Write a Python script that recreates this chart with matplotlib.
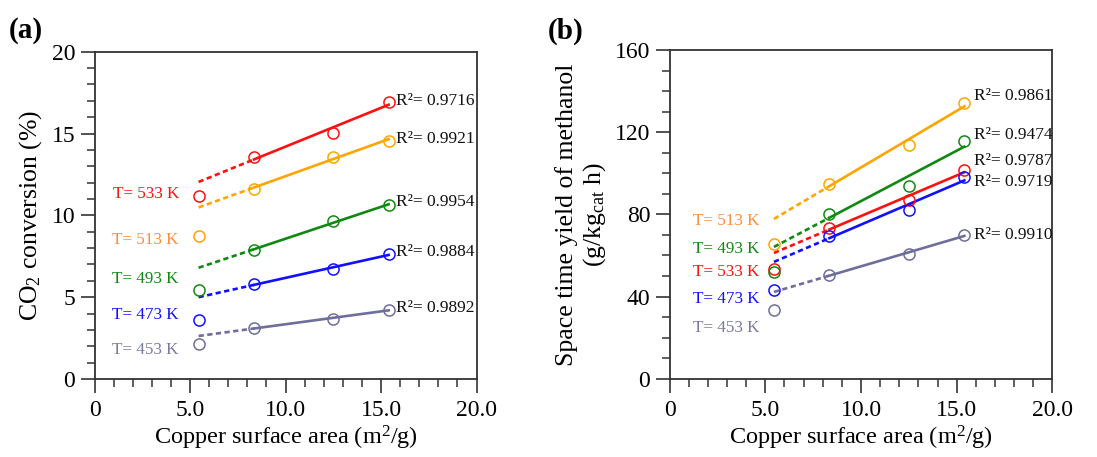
import numpy as np
import matplotlib
matplotlib.use("Agg")
import matplotlib.pyplot as plt
from matplotlib.ticker import MultipleLocator, FixedLocator

plt.rcParams['font.family'] = ['Liberation Serif', 'DejaVu Serif']
plt.rcParams['mathtext.fontset'] = 'custom'
plt.rcParams['mathtext.rm'] = 'Liberation Serif'
plt.rcParams['mathtext.it'] = 'Liberation Serif:italic'
plt.rcParams['mathtext.bf'] = 'Liberation Serif:bold'

# ---- data ----
cu_area = [5.45, 8.35, 12.5, 15.4]
temps = ["T= 533 K", "T= 513 K", "T= 493 K", "T= 473 K", "T= 453 K"]
colors = ["#ff1010", "#ffa500", "#118811", "#1010ff", "#6e6e9a"]
label_colors = ["#ff1010", "#ff8c3a", "#118811", "#1010ff", "#7a7aa0"]

co2_conv = [
    [11.21, 13.55, 15.06, 16.95],   # 533 K
    [8.71, 11.64, 13.59, 14.57],    # 513 K
    [5.43, 7.89, 9.64, 10.62],      # 493 K
    [3.60, 5.80, 6.71, 7.65],       # 473 K
    [2.16, 3.11, 3.68, 4.23],       # 453 K
]
r2_a = ["0.9716", "0.9921", "0.9954", "0.9884", "0.9892"]

sty = [
    [53.2, 73.5, 87.0, 101.7],      # 533 K
    [65.4, 94.9, 113.8, 134.2],     # 513 K
    [52.1, 80.3, 94.0, 115.7],      # 493 K
    [43.3, 69.6, 82.1, 98.2],       # 473 K
    [33.6, 50.6, 60.5, 70.1],       # 453 K
]
r2_b = ["0.9787", "0.9861", "0.9474", "0.9719", "0.9910"]

# label positions (data coords)
tlab_a_y = [11.32, 8.5, 6.14, 3.9, 1.75]
r2lab_a_y = [17.0, 14.65, 10.82, 7.77, 4.31]
tlab_b_y = [51.8, 76.9, 63.0, 38.6, 24.5]
r2lab_b_y = [106.0, 137.4, 118.8, 95.7, 69.8]

W, H = 1097, 457
fig = plt.figure(figsize=(W / 100, H / 100), dpi=100)
axa = fig.add_axes([94.5 / W, 1 - 379 / H, (476.5 - 94.5) / W, (379 - 51.7) / H])
axb = fig.add_axes([669.7 / W, 1 - 378.7 / H, (1052.3 - 669.7) / W, (378.7 - 50) / H])

x = np.array(cu_area)


def draw(ax, data, r2, tly, r2y, tx, r2x):
    for i in range(len(data)):
        y = np.array(data[i])
        c = colors[i]
        p = np.polyfit(x[1:], y[1:], 1)
        xs = np.array([x[1], x[-1]])
        xd = np.array([x[0], x[1]])
        ax.plot(xs, np.polyval(p, xs), color=c, lw=1.9, zorder=3)
        ax.plot(xd, np.polyval(p, xd), color=c, lw=1.9, ls=(0, (2.0, 1.3)), zorder=3)
        ax.plot(x, y, 'o', mfc='none', mec=c, ms=8, mew=1.1, zorder=4)
        ax.text(tx, tly[i], temps[i], color=label_colors[i], fontsize=12.3,
                ha='right', va='center')
        ax.text(r2x, r2y[i], "R\u00b2= " + r2[i], color='#111111', fontsize=12.5,
                ha='left', va='center')


draw(axa, co2_conv, r2_a, tlab_a_y, r2lab_a_y, 4.42, 15.77)
draw(axb, sty, r2_b, tlab_b_y, r2lab_b_y, 4.70, 15.9)

for ax in (axa, axb):
    ax.set_xlim(0, 20)
    ax.xaxis.set_major_locator(FixedLocator([0, 5, 10, 15, 20]))
    ax.set_xticklabels(["0", "5.0", "10.0", "15.0", "20.0"])
    ax.xaxis.set_minor_locator(MultipleLocator(1))
    ax.tick_params(which='major', direction='out', length=10, width=1.2,
                   labelsize=17, color='#333333', pad=4)
    ax.tick_params(which='minor', direction='out', length=6, width=1.1,
                   color='#333333')
    ax.tick_params(axis='x', which='major', pad=5)
    for s in ax.spines.values():
        s.set_linewidth(1.3)
        s.set_color('#333333')
    ax.set_xlabel("Copper surface area (m$^2$/g)", fontsize=17.5, labelpad=2)

axa.set_ylim(0, 20)
axa.yaxis.set_major_locator(MultipleLocator(5))
axa.yaxis.set_minor_locator(MultipleLocator(1))
axa.set_ylabel("CO$_2$ conversion (%)", fontsize=18.5, labelpad=5)

axb.set_ylim(0, 160)
axb.yaxis.set_major_locator(MultipleLocator(40))
axb.yaxis.set_minor_locator(MultipleLocator(10))
axb.set_ylabel("Space time yield of methanol\n(g/kg$_{\\mathrm{cat}}$ h)",
               fontsize=18.5, labelpad=5, linespacing=1.15)

fig.text(9 / W, 1 - 31 / H, "(a)", fontsize=21, fontweight='bold', ha='left', va='center')
fig.text(548 / W, 1 - 31 / H, "(b)", fontsize=21, fontweight='bold', ha='left', va='center')

fig.savefig("out.png", dpi=100)
